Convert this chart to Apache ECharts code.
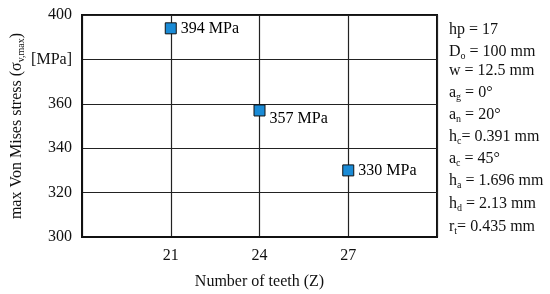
<!DOCTYPE html>
<html>
<head>
<meta charset="utf-8">
<script src="https://cdn.jsdelivr.net/npm/echarts@6/dist/echarts.min.js"></script>
<style>
  html, body { margin: 0; padding: 0; background: #fff; }
  #chart { width: 550px; height: 294px; }
</style>
</head>
<body>
<div id="chart"></div>
<script>
var teeth = [21, 24, 27];
var stress = [394, 357, 330];
var xTicks = [21, 24, 27];
var yTickNames = { 380: '[MPa]' };
var params = [
    ['hp', '', ' = 17'],
    ['D', 'o', ' = 100 mm'],
    ['w', '', ' = 12.5 mm'],
    ['a', 'g', ' = 0°'],
    ['a', 'n', ' = 20°'],
    ['h', 'c', '= 0.391 mm'],
    ['a', 'c', ' = 45°'],
    ['h', 'a', ' = 1.696 mm'],
    ['h', 'd', ' = 2.13 mm'],
    ['r', 't', '= 0.435 mm']
];

var font = 'Liberation Serif, Times New Roman, serif';
var chart = echarts.init(document.getElementById('chart'));

// the middle point has its label dropped a little below the marker
var labelShift = [[0, 0], [0, 8], [0, 0]];
var points = [];
for (var i = 0; i < teeth.length; i++) {
    points.push({
        value: [teeth[i], stress[i]],
        label: { offset: labelShift[i] }
    });
}

// parameter list on the right side
var graphics = [];
var lineY = [32, 54, 73, 95, 117, 139, 161, 183, 206, 229];
for (var j = 0; j < params.length; j++) {
    var p = params[j];
    var txt = p[0] + (p[1] ? '{s|' + p[1] + '}' : '') + p[2];
    graphics.push({
        type: 'text',
        left: 449,
        top: lineY[j] - 10,
        style: {
            text: txt,
            fontFamily: font,
            fontSize: 16,
            fill: '#111',
            rich: {
                s: { fontFamily: font, fontSize: 10, fill: '#111', verticalAlign: 'bottom', lineHeight: 19, padding: [7, 0, 0, 0] }
            }
        }
    });
}

var option = {
    animation: false,
    grid: {
        left: 82,
        right: 113,
        top: 15,
        bottom: 57,
        outerBoundsMode: 'none',
        show: true,
        borderColor: '#111',
        borderWidth: 2
    },
    xAxis: {
        type: 'value',
        min: 18,
        max: 30,
        interval: 3,
        name: 'Number of teeth (Z)',
        nameLocation: 'middle',
        nameGap: 37,
        nameTextStyle: { fontFamily: font, fontSize: 16, color: '#111' },
        axisLine: { lineStyle: { color: '#111', width: 2 } },
        axisTick: { show: false },
        axisLabel: {
            fontFamily: font,
            fontSize: 16,
            color: '#111',
            margin: 11,
            formatter: function (v) {
                return xTicks.indexOf(v) >= 0 ? String(v) : '';
            }
        },
        splitLine: { show: true, lineStyle: { color: '#222', width: 1.2 } }
    },
    yAxis: {
        type: 'value',
        min: 300,
        max: 400,
        interval: 20,
        name: 'max Von Mises stress (σ{s|v,max})',
        nameLocation: 'middle',
        nameGap: 56,
        nameMoveOverlap: false,
        nameTextStyle: {
            fontFamily: font,
            fontSize: 16,
            color: '#111',
            rich: {
                s: { fontFamily: font, fontSize: 10, color: '#111', verticalAlign: 'bottom', lineHeight: 19, padding: [7, 0, 0, 0] }
            }
        },
        axisLine: { lineStyle: { color: '#111', width: 2 } },
        axisTick: { show: false },
        axisLabel: {
            fontFamily: font,
            fontSize: 16,
            color: '#111',
            margin: 10,
            formatter: function (v) {
                return yTickNames[v] || String(v);
            }
        },
        splitLine: { show: true, lineStyle: { color: '#222', width: 1.2 } }
    },
    graphic: graphics,
    series: [
        {
            type: 'scatter',
            data: points,
            symbol: 'rect',
            symbolSize: 11,
            itemStyle: { color: '#1a8bd6', borderColor: '#111', borderWidth: 1, opacity: 1 },
            label: {
                show: true,
                position: 'right',
                distance: 4,
                fontFamily: font,
                fontSize: 16,
                color: '#000',
                textBorderWidth: 0,
                formatter: function (d) { return d.value[1] + ' MPa'; }
            },
            z: 5
        }
    ]
};
chart.setOption(option);
</script>
</body>
</html>
